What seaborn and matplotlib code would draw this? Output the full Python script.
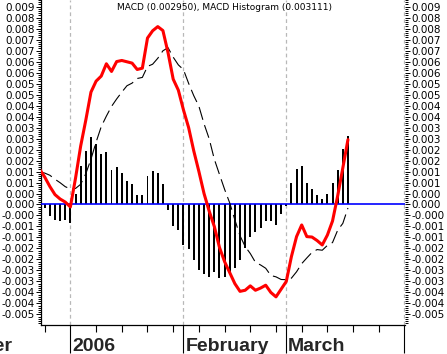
import matplotlib
matplotlib.use("Agg")
import matplotlib.pyplot as plt
from matplotlib.ticker import MultipleLocator
import numpy as np
import pandas as pd
import seaborn as sns

# business days shown in the chart (first one sits just left of the plot edge)
dates = pd.bdate_range("2005-12-23", "2006-03-17")

macd = [
    0.00161, 0.00125, 0.00082, 0.00045, 0.00025, 0.00011, -0.00011, 0.00120,
    0.00266, 0.00384, 0.00511, 0.00561, 0.00584, 0.00640, 0.00605, 0.00650,
    0.00655, 0.00649, 0.00643, 0.00614, 0.00620, 0.00757, 0.00790, 0.00809,
    0.00791, 0.00690, 0.00570, 0.00520, 0.00430, 0.00350, 0.00244, 0.00150,
    0.00050, -0.00030, -0.00100, -0.00195, -0.00260, -0.00310, -0.00360, -0.00395,
    -0.00390, -0.00370, -0.00390, -0.00380, -0.00367, -0.00400, -0.00420, -0.00385,
    -0.00350, -0.00237, -0.00146, -0.00093, -0.00146, -0.00148, -0.00164, -0.00184,
    -0.00139, -0.00075, 0.00039, 0.00166, 0.00295,
]
histogram = [
    0.00013, -0.00018, -0.00051, -0.00070, -0.00074, -0.00070, -0.00082, 0.00047,
    0.00174, 0.00244, 0.00305, 0.00277, 0.00230, 0.00238, 0.00159, 0.00170,
    0.00144, 0.00109, 0.00091, 0.00041, 0.00042, 0.00129, 0.00152, 0.00144,
    0.00092, -0.00023, -0.00100, -0.00115, -0.00183, -0.00201, -0.00251, -0.00297,
    -0.00317, -0.00329, -0.00306, -0.00332, -0.00329, -0.00317, -0.00290, -0.00253,
    -0.00199, -0.00147, -0.00127, -0.00105, -0.00077, -0.00077, -0.00091, -0.00044,
    -0.00008, 0.00098, 0.00160, 0.00176, 0.00097, 0.00070, 0.00041, 0.00024,
    0.00047, 0.00098, 0.00156, 0.00252, 0.00311,
]
signal = [
    0.00148, 0.00143, 0.00133, 0.00115, 0.00099, 0.00081, 0.00071, 0.00073,
    0.00092, 0.00140, 0.00206, 0.00284, 0.00354, 0.00402, 0.00446, 0.00480,
    0.00511, 0.00540, 0.00552, 0.00573, 0.00578, 0.00628, 0.00638, 0.00665,
    0.00699, 0.00713, 0.00670, 0.00635, 0.00613, 0.00551, 0.00495, 0.00447,
    0.00367, 0.00299, 0.00206, 0.00137, 0.00069, 0.00007, -0.00070, -0.00142,
    -0.00191, -0.00223, -0.00263, -0.00275, -0.00290, -0.00323, -0.00329, -0.00341,
    -0.00342, -0.00335, -0.00306, -0.00269, -0.00243, -0.00218, -0.00205, -0.00208,
    -0.00186, -0.00173, -0.00117, -0.00086, -0.00016,
]

ytick_values = [
    -0.005, -0.0045, -0.004, -0.0035, -0.003, -0.0025, -0.002, -0.0015, -0.001,
    -0.0005, 0.0, 0.0005, 0.001, 0.0015, 0.002, 0.0025, 0.003, 0.0035, 0.004,
    0.0045, 0.005, 0.0055, 0.006, 0.0065, 0.007, 0.0075, 0.008, 0.0085, 0.009,
]
ytick_labels = [
    "-0.005", "-0.004", "-0.004", "-0.003", "-0.003", "-0.002", "-0.002", "-0.001", "-0.001",
    "-0.000", "0.000", "0.000", "0.001", "0.001", "0.002", "0.002", "0.003", "0.003", "0.004",
    "0.004", "0.005", "0.005", "0.006", "0.006", "0.007", "0.007", "0.008", "0.008", "0.009",
]
month_starts = ["2006-01-02", "2006-02-01", "2006-03-01", "2006-04-03"]
month_labels = ["2006", "February", "March"]
title_text = "MACD (0.002950), MACD Histogram (0.003111)"

sns.set_style("white")
plt.rcParams["font.family"] = ["DejaVu Sans"]

axis_days = pd.bdate_range("2005-12-01", "2006-04-07")
origin = axis_days.get_loc(dates[0])


def day_pos(d):
    return axis_days.get_loc(pd.Timestamp(d)) - origin


df = pd.DataFrame({
    "pos": [day_pos(d) for d in dates],
    "macd": macd,
    "signal": signal,
    "hist": histogram,
})

fig = plt.figure(figsize=(4.47, 3.54), dpi=100)
ax = fig.add_axes([41 / 447, 29 / 354, 364 / 447, 325 / 354])

month_pos = [day_pos(d) for d in month_starts]
for p in month_pos:
    ax.axvline(p, color="#b8b8b8", lw=0.9, ls=(0, (3, 2.5)), zorder=1)

ax.bar(df["pos"], df["hist"], width=0.38, color="black", linewidth=0,
       antialiased=False, zorder=2)
ax.axhline(0, color="#0000ff", lw=1.2, zorder=3)
sns.lineplot(data=df, x="pos", y="signal", ax=ax, color="black", lw=0.8,
             linestyle=(0, (12, 5)), zorder=4)
sns.lineplot(data=df, x="pos", y="macd", ax=ax, color="#ff0000", lw=2.2, zorder=5)

ax.set_xlim(0.28, 71.1)
ax.set_ylim(-0.00548, 0.0093)
ax.set_xlabel("")
ax.set_ylabel("")

for side in ["top", "right"]:
    ax.spines[side].set_visible(False)
for side in ["left", "bottom"]:
    ax.spines[side].set_color("black")
    ax.spines[side].set_linewidth(0.9)

# y axis: labels on both sides
ax.set_yticks(ytick_values)
ax.set_yticklabels(ytick_labels)
ax.yaxis.set_minor_locator(MultipleLocator(0.0001))
ax.tick_params(axis="y", which="both", left=True, right=True,
               labelleft=True, labelright=True, direction="out",
               colors="black", labelsize=7.5, width=0.7)
ax.tick_params(axis="y", which="major", length=3.5, pad=1.2)
ax.tick_params(axis="y", which="minor", length=2)

# x axis: long ticks at month starts, short weekly ticks on Mondays
mondays = [day_pos(d) for d in axis_days if d.weekday() == 0]
mondays = [p for p in mondays if 0.28 <= p <= 71.1]
ax.set_xticks(month_pos)
ax.set_xticklabels([])
ax.set_xticks(mondays, minor=True)
ax.tick_params(axis="x", which="major", bottom=True, length=20, width=0.8,
               direction="out", color="black")
ax.tick_params(axis="x", which="minor", bottom=True, length=5, width=0.8,
               direction="out", color="black")

label_font = dict(fontsize=14, fontweight="bold", family=["Liberation Sans", "DejaVu Sans"])
for p, name in zip(month_pos[:3], month_labels):
    ax.annotate(name, xy=(p, 0), xycoords=("data", "axes fraction"),
                xytext=(1.4, -18.7), textcoords="offset points",
                ha="left", va="baseline", annotation_clip=False, **label_font)
# the December label runs off the left edge of the picture, as in the original
ax.annotate("December", xy=(month_pos[0], 0), xycoords=("data", "axes fraction"),
            xytext=(-41.5, -18.7), textcoords="offset points",
            ha="right", va="baseline", annotation_clip=False, **label_font)

ax.text(0.505, 1 - 7 / 325, title_text, transform=ax.transAxes,
        ha="center", va="center", fontsize=6.5, color="black")

fig.savefig("out.png", dpi=100)
plt.close(fig)
